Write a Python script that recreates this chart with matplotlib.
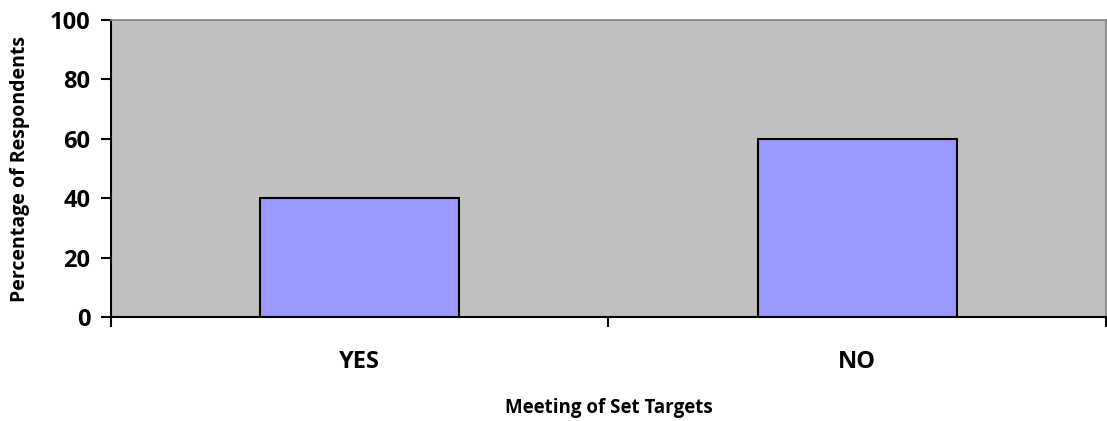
import matplotlib.pyplot as plt
from matplotlib.ticker import FixedLocator

plt.rcParams["font.family"] = ["Open Sans", "DejaVu Sans"]

categories = ["YES", "NO"]
percentages = [40, 60]
y_ticks = [0, 20, 40, 60, 80, 100]

fig = plt.figure(figsize=(11.07, 4.21), dpi=100)
ax = fig.add_axes([0.1003, 0.247, 0.8987, 0.7055])
ax.set_facecolor("#c0c0c0")

pos = list(range(len(categories)))
ax.bar(pos, percentages, width=0.4, color="#9999ff", edgecolor="black", linewidth=1.5, zorder=3)

ax.set_xlim(-0.5, len(categories) - 0.5)
ax.set_ylim(0, 100)
ax.set_yticks(y_ticks)
ax.set_xticks(pos)
ax.set_xticklabels(categories, fontsize=17, fontweight="bold")
ax.xaxis.set_minor_locator(FixedLocator([p - 0.5 for p in range(len(categories) + 1)]))
ax.tick_params(axis="x", which="major", length=0, pad=24)
ax.tick_params(axis="x", which="minor", length=7, width=1.5, direction="out")
ax.tick_params(axis="y", length=7, width=1.5, direction="out", pad=8, labelsize=17)
for lab in ax.get_yticklabels():
    lab.set_fontweight("bold")

for side in ("left", "bottom"):
    ax.spines[side].set_color("black")
    ax.spines[side].set_linewidth(1.5)
for side in ("top", "right"):
    ax.spines[side].set_color("#808080")
    ax.spines[side].set_linewidth(1.2)

ax.set_xlabel("Meeting of Set Targets", fontsize=13.5, fontweight="bold", va="center")
ax.set_ylabel("Percentage of Respondents", fontsize=14, fontweight="bold", va="center")
ax.xaxis.set_label_coords(0.5, -0.308)
ax.yaxis.set_label_coords(-0.092, 0.5)

fig.savefig("out.png", dpi=100)
